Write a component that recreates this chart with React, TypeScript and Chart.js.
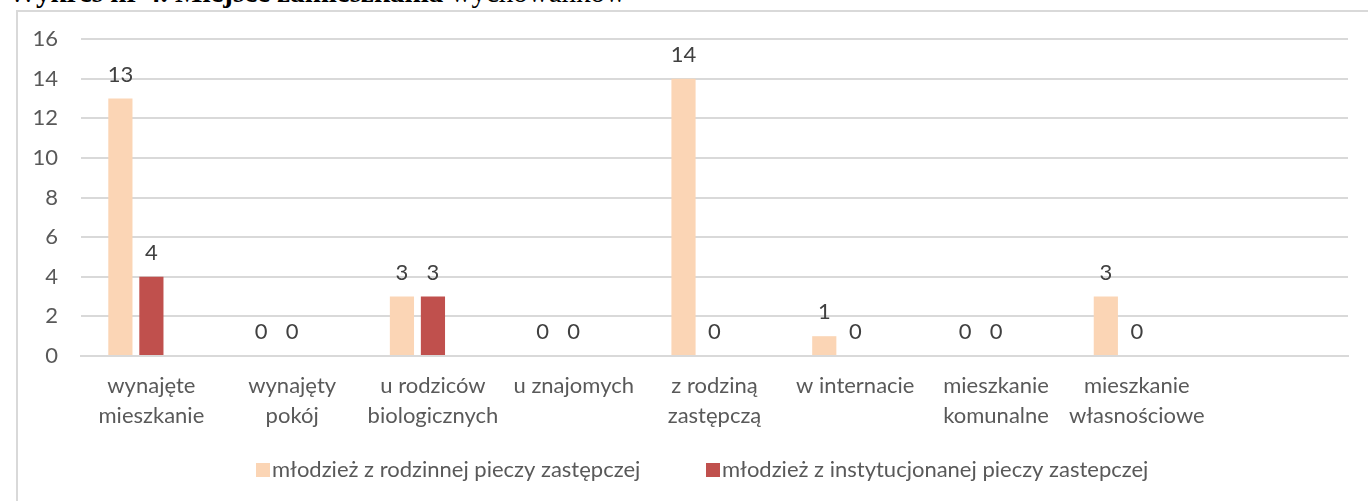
import React, { useEffect, useRef } from 'react';
import { Chart, registerables } from 'chart.js';

Chart.register(...registerables);

const categories: (string | string[])[] = [
  ['wynajęte', 'mieszkanie'],
  ['wynajęty', 'pokój'],
  ['u rodziców', 'biologicznych'],
  'u znajomych',
  ['z rodziną', 'zastępczą'],
  'w internacie',
  ['mieszkanie', 'komunalne'],
  ['mieszkanie', 'własnościowe'],
  '',
];

const seriesNames = [
  'młodzież z rodzinnej pieczy zastępczej',
  'młodzież z instytucjonanej pieczy zastepczej',
];

const rodzinnaValues: (number | null)[] = [13, 0, 3, 0, 14, 1, 0, 3, null];
const instytucjonalnaValues: (number | null)[] = [4, 0, 3, 0, 0, 0, 0, 0, null];
// empty third series (present in the source chart, has no values)
const emptySeriesValues: (number | null)[] = [null, null, null, null, null, null, null, null, null];

const yMin = 0;
const yMax = 16;
const yStep = 2;

const titleBold = 'Wykres nr 4. Miejsce zamieszkania ';
const titleRegular = 'wychowanków';

const FONT = 'Lato, "Open Sans", sans-serif';
const seriesColors = ['#FBD5B5', '#C0504D'];

const valueLabelPlugin = {
  id: 'valueLabels',
  afterDatasetsDraw(chart: any) {
    const ctx = chart.ctx;
    ctx.save();
    ctx.font = `22px ${FONT}`;
    ctx.fillStyle = '#404040';
    ctx.textAlign = 'center';
    ctx.textBaseline = 'middle';
    [0, 1].forEach((di) => {
      const meta = chart.getDatasetMeta(di);
      meta.data.forEach((el: any, i: number) => {
        const v = chart.data.datasets[di].data[i];
        if (v === null || v === undefined) return;
        ctx.fillText(String(v), el.x, el.y - 24);
      });
    });
    ctx.restore();
  },
};

const legendPlugin = {
  id: 'customLegend',
  afterDraw(chart: any) {
    const ctx = chart.ctx;
    ctx.save();
    ctx.font = `22px ${FONT}`;
    ctx.textBaseline = 'alphabetic';
    ctx.textAlign = 'left';
    const boxLefts = [256, 706];
    [0, 1].forEach((di) => {
      const ds = chart.data.datasets[di];
      const x = boxLefts[di];
      ctx.fillStyle = ds.backgroundColor;
      ctx.fillRect(x, 463, 14, 14);
      ctx.fillStyle = '#595959';
      ctx.fillText(ds.label, x + 16, 477);
    });
    ctx.restore();
  },
};

export default function App() {
  const canvasRef = useRef<HTMLCanvasElement | null>(null);

  useEffect(() => {
    if (!canvasRef.current) return;
    const chart = new Chart(canvasRef.current, {
      type: 'bar',
      data: {
        labels: categories,
        datasets: [
          { label: seriesNames[0], data: rodzinnaValues, backgroundColor: seriesColors[0] },
          { label: seriesNames[1], data: instytucjonalnaValues, backgroundColor: seriesColors[1] },
          { label: '', data: emptySeriesValues, backgroundColor: 'rgba(0,0,0,0)' },
        ],
      },
      options: {
        responsive: false,
        animation: false,
        events: [],
        datasets: {
          bar: {
            categoryPercentage: 0.6606,
            barPercentage: 0.78,
          },
        },
        layout: { padding: { left: 16, right: 20, top: 39, bottom: 0 } },
        plugins: {
          legend: { display: false },
          tooltip: { enabled: false },
          title: { display: false },
        },
        scales: {
          x: {
            grid: { display: false, drawTicks: false },
            border: { display: true, color: '#d9d9d9', width: 2 },
            ticks: {
              color: '#595959',
              font: { family: FONT, size: 22, lineHeight: 30 / 22 },
              padding: 15,
              maxRotation: 0,
              autoSkip: false,
            },
            afterFit: (s: any) => {
              s.height = 145;
            },
          },
          y: {
            min: yMin,
            max: yMax,
            grid: { color: '#d9d9d9', lineWidth: 2, drawTicks: false },
            border: { display: false },
            ticks: {
              stepSize: yStep,
              color: '#595959',
              font: { family: FONT, size: 22 },
              padding: 23,
            },
            afterFit: (s: any) => {
              s.width = 65;
            },
          },
        },
      },
      plugins: [valueLabelPlugin, legendPlugin],
    });
    return () => chart.destroy();
  }, []);

  return (
    <div
      style={{
        position: 'fixed',
        left: 0,
        top: 0,
        width: 1368,
        height: 501,
        overflow: 'hidden',
        background: '#ffffff',
      }}
    >
      <div
        style={{
          position: 'absolute',
          left: 8,
          top: -22,
          whiteSpace: 'nowrap',
          fontFamily: '"Liberation Serif", "Times New Roman", serif',
          fontSize: 29,
          lineHeight: '29px',
          color: '#000',
        }}
      >
        <b>{titleBold}</b>
        <span>{titleRegular}</span>
      </div>
      <div
        style={{
          position: 'absolute',
          left: 16,
          top: 10,
          width: 1370,
          height: 500,
          borderLeft: '2px solid #d9d9d9',
          borderTop: '2px solid #d9d9d9',
          boxSizing: 'border-box',
        }}
      />
      <canvas
        ref={canvasRef}
        width={1368}
        height={501}
        style={{ position: 'absolute', left: 0, top: 0, width: 1368, height: 501 }}
      />
    </div>
  );
}
